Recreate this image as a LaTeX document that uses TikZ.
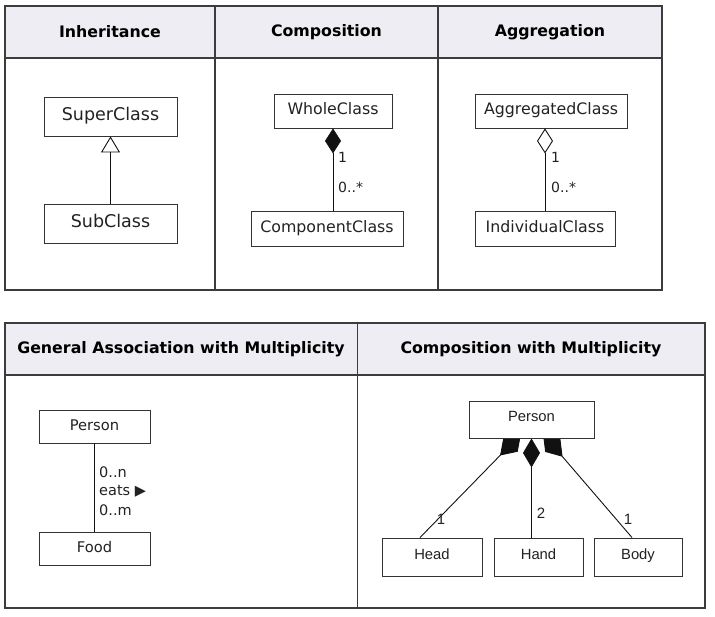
\documentclass[tikz,border=0pt]{standalone}
\usepackage{fontspec}
\setmainfont{DejaVu Sans}
\newfontfamily\helv{Liberation Sans}
\usetikzlibrary{arrows.meta,calc}
\pgfdeclarelayer{background}
\pgfsetlayers{background,main}
\definecolor{hdrfill}{HTML}{EDEDF3}
\definecolor{tblline}{HTML}{3C3C3C}
\definecolor{boxline}{HTML}{333333}
\definecolor{connline}{HTML}{111111}
\definecolor{txt}{HTML}{222222}
\tikzset{
  tbl/.style={draw=tblline, line width=1.1pt},
  hdr/.style={font=\bfseries\fontsize{15.8}{18}\selectfont, text=black},
  umlbox/.style={draw=boxline, line width=0.9pt, fill=white, inner sep=0pt, text=txt},
  bigtxt/.style={font=\fontsize{17.5}{20}\selectfont, text height=13.3pt, text depth=5.5pt},
  midtxt/.style={font=\fontsize{15.8}{18}\selectfont, text height=12pt, text depth=4.1pt},
  smalltxt/.style={font=\fontsize{14.7}{17}\selectfont, text height=11.2pt, text depth=3.5pt},
  helvtxt/.style={font=\helv\fontsize{14.8}{17}\selectfont, text height=10.5pt, text depth=6.5pt},
  lbl/.style={inner sep=0pt, text=txt, font=\fontsize{14}{16}\selectfont},
  hlbl/.style={inner sep=0pt, text=txt, font=\helv\fontsize{15}{17}\selectfont},
  conn/.style={draw=connline, line width=0.9pt},
  comptip/.style={-{Diamond[length=25pt,width=16pt]}},
  aggtip/.style={-{Diamond[open,length=25pt,width=16pt]}},
  inhtip/.style={-{Triangle[open,length=16pt,width=19pt]}},
  multtip/.style={-{Diamond[length=30pt,width=20pt]}},
  midtip/.style={-{Diamond[length=29pt,width=17pt]}}
}
\begin{document}
\begin{tikzpicture}[x=1pt,y=-1pt]
\useasboundingbox (0,0) rectangle (715,617);
% ---- top table ----
\fill[hdrfill] (5,6) rectangle (662,58);
\draw[tbl] (5,6) rectangle (662,290);
\draw[tbl] (5,58) -- (662,58);
\draw[tbl] (215,6) -- (215,290);
\draw[tbl] (438,6) -- (438,290);
\node[hdr] (h1) at (110,32) {Inheritance};
\node[hdr] (h2) at (326.5,32) {Composition};
\node[hdr] (h3) at (550,32) {Aggregation};
% ---- bottom table ----
\fill[hdrfill] (5,323) rectangle (705,375);
\draw[tbl] (5,323) rectangle (705,608);
\draw[tbl] (5,375) -- (705,375);
\draw[tbl] (357.5,323) -- (357.5,608);
\node[hdr] (h4) at (181,349) {General Association with Multiplicity};
\node[hdr] (h5) at (531,349) {Composition with Multiplicity};
% ---- Inheritance ----
\node[umlbox, bigtxt, minimum width=133pt, minimum height=39pt] (super) at (110.5,116.5) {SuperClass};
\node[umlbox, bigtxt, minimum width=133pt, minimum height=39pt] (sub) at (110.5,223.5) {SubClass};
\draw[conn, inhtip] (sub.north) -- (super.south);
% ---- Composition ----
\node[umlbox, midtxt, minimum width=118pt, minimum height=34pt] (whole) at (333,111) {WholeClass};
\node[umlbox, midtxt, minimum width=152pt, minimum height=35pt] (comp) at (327,228.5) {ComponentClass};
\draw[conn, comptip] (whole.south |- comp.north) -- (whole.south);
\node[lbl, anchor=west] (c1) at (338,157) {1};
\node[lbl, anchor=west] (c2) at (338,187) {0..*};
% ---- Aggregation ----
\node[umlbox, midtxt, minimum width=152pt, minimum height=34pt] (agg) at (551,111) {AggregatedClass};
\node[umlbox, midtxt, minimum width=140pt, minimum height=35pt] (ind) at (545,228.5) {IndividualClass};
\draw[conn, aggtip] (ind.north) -- (ind.north |- agg.south);
\node[lbl, anchor=west] (a1) at (551,157) {1};
\node[lbl, anchor=west] (a2) at (551,187) {0..*};
% ---- General association ----
\node[umlbox, smalltxt, minimum width=111pt, minimum height=33pt] (person) at (94.5,426.5) {Person};
\node[umlbox, smalltxt, minimum width=111pt, minimum height=33pt] (food) at (94.5,548.5) {Food};
\draw[conn] (person.south) -- (food.north);
\node[lbl, anchor=west, font=\fontsize{14.5}{16}\selectfont] (g1) at (99,472) {0..n};
\node[lbl, anchor=west, font=\fontsize{14.5}{16}\selectfont] (g2) at (99,491) {eats ▶};
\node[lbl, anchor=west, font=\fontsize{14.5}{16}\selectfont] (g3) at (99,510) {0..m};
% ---- Composition with multiplicity ----
\node[umlbox, helvtxt, minimum width=125pt, minimum height=37pt] (person2) at (531.5,419.5) {Person};
\node[umlbox, helvtxt, minimum width=100pt, minimum height=38pt] (head) at (432,557) {Head};
\node[umlbox, helvtxt, minimum width=89pt, minimum height=38pt] (hand) at (538.5,557) {Hand};
\node[umlbox, helvtxt, minimum width=88pt, minimum height=38pt] (body) at (638,557) {Body};
\coordinate (hdtip) at (521,434);
\coordinate (bdtip) at (543,434);
\begin{pgfonlayer}{background}
\draw[conn, multtip] ($(head.north)+(-12,0)$) -- (hdtip);
\draw[conn, multtip] ($(body.north)+(-6,0)$) -- (bdtip);
\draw[conn, midtip] (person2.south |- hand.north) -- (person2.south);
\end{pgfonlayer}
\node[hlbl] (m1) at (441,519) {1};
\node[hlbl] (m2) at (541,513) {2};
\node[hlbl] (m3) at (628,519) {1};
\end{tikzpicture}
\end{document}
